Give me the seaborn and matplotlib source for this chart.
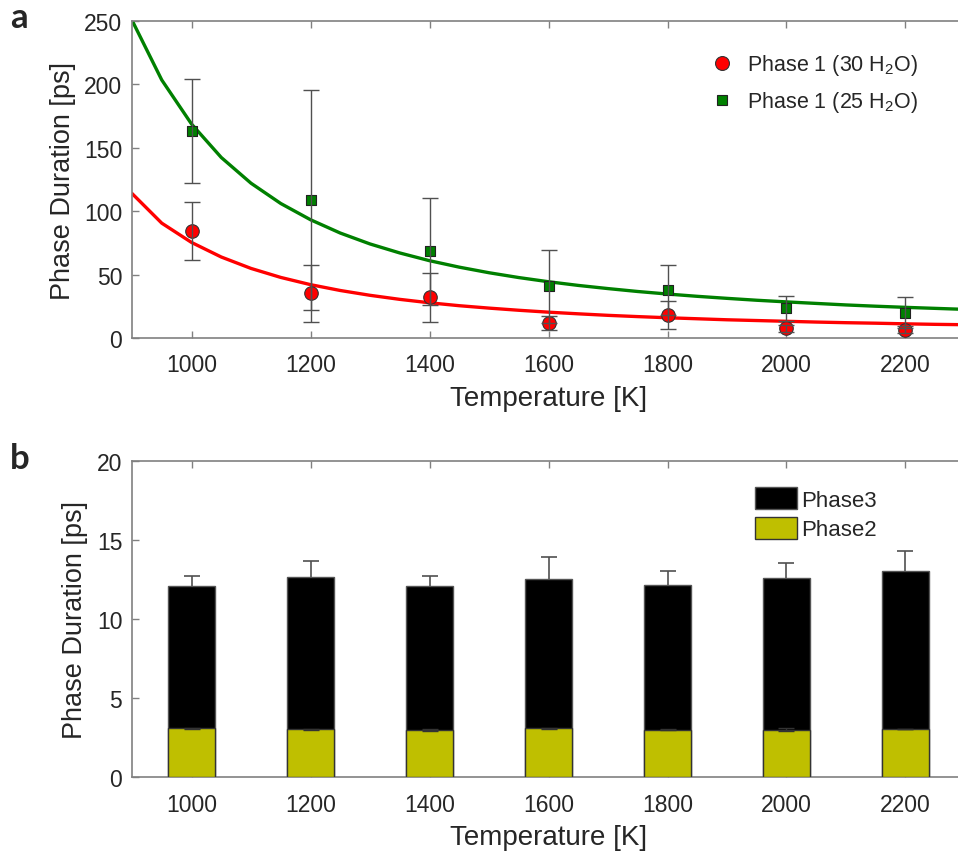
# Phase durations vs temperature (two panels)

import seaborn as sns
import matplotlib.pyplot as plt
import pandas as pd
from matplotlib.patches import Patch
from matplotlib.lines import Line2D

temps = [1000, 1200, 1400, 1600, 1800, 2000, 2200]

# panel a: phase 1 points + error bars
p1_30 = [84.5, 35.2, 32.0, 11.8, 18.1, 7.6, 6.6]
p1_30_err = [23.0, 22.5, 19.0, 5.5, 11.0, 3.0, 3.0]
p1_25 = [163.5, 109.0, 68.4, 40.7, 37.9, 23.4, 20.0]
p1_25_err = [41.0, 87.0, 42.3, 29.0, 19.7, 10.0, 12.3]

# fitted curves, every 50 K
fit_T = [900, 950, 1000, 1050, 1100, 1150, 1200, 1250, 1300, 1350, 1400,
         1450, 1500, 1550, 1600, 1650, 1700, 1750, 1800, 1850, 1900,
         1950, 2000, 2050, 2100, 2150, 2200, 2250, 2300]
fit_30 = [114.0, 90.6, 75.4, 63.9, 54.9, 47.8, 42.1, 37.5, 33.7, 30.5, 27.8,
          25.5, 23.6, 21.9, 20.4, 19.1, 17.9, 16.9, 16.0, 15.2, 14.4,
          13.8, 13.2, 12.6, 12.1, 11.7, 11.2, 10.8, 10.5]
fit_25 = [250.6, 203.5, 168.8, 142.4, 122.1, 106.1, 93.3, 82.8, 74.2, 67.1, 61.0,
          55.9, 51.5, 47.7, 44.4, 41.5, 39.0, 36.7, 34.7, 32.9, 31.3,
          29.8, 28.5, 27.3, 26.1, 25.1, 24.2, 23.4, 22.6]

# panel b: stacked phase 2 / phase 3
phase2 = [3.09, 3.05, 3.00, 3.09, 3.00, 3.00, 3.05]
phase2_err = [0.05, 0.03, 0.05, 0.04, 0.03, 0.10, 0.02]
phase3 = [8.98, 9.60, 9.07, 9.46, 9.13, 9.59, 9.98]
phase3_err = [0.67, 1.01, 0.69, 1.35, 0.92, 0.95, 1.25]

sns.set_style("ticks")
plt.rcParams['font.family'] = ['Liberation Sans', 'DejaVu Sans']
plt.rcParams['mathtext.fontset'] = 'custom'
plt.rcParams['mathtext.rm'] = 'Liberation Sans'
plt.rcParams['mathtext.default'] = 'regular'

txt = '#262626'
edge = '#808080'
ebar = '#505050'
red = '#ff0000'
green = '#008000'
olive = '#bfbf00'

fig = plt.figure(figsize=(9.58, 8.54), dpi=100)
ax1 = fig.add_axes([0.1378, 0.6030, 0.8695, 0.3712])
ax2 = fig.add_axes([0.1378, 0.0886, 0.8695, 0.3704])

# ---- panel a
pts = pd.DataFrame({"T": temps, "p30": p1_30, "p25": p1_25})
fits = pd.DataFrame({"T": fit_T, "f30": fit_30, "f25": fit_25})

sns.lineplot(data=fits, x="T", y="f30", ax=ax1, color=red, lw=2.4, zorder=2)
sns.lineplot(data=fits, x="T", y="f25", ax=ax1, color=green, lw=2.4, zorder=2)
sns.scatterplot(data=pts, x="T", y="p30", ax=ax1, marker='o', s=95,
                color=red, edgecolor='#333333', linewidth=0.8, zorder=3)
sns.scatterplot(data=pts, x="T", y="p25", ax=ax1, marker='s', s=45,
                color=green, edgecolor='#222222', linewidth=0.8, zorder=3)
ax1.errorbar(temps, p1_30, yerr=p1_30_err, fmt='none', ecolor=ebar,
             elinewidth=1, capsize=6, capthick=1, zorder=4)
ax1.errorbar(temps, p1_25, yerr=p1_25_err, fmt='none', ecolor=ebar,
             elinewidth=1, capsize=6, capthick=1, zorder=4)

ax1.set_xlim(900, 2300)
ax1.set_ylim(0, 250)
ax1.set_yticks([0, 50, 100, 150, 200, 250])
ax1.set_xticks(temps)

leg_a = [
    Line2D([], [], ls='none', marker='o', ms=10, mfc=red, mec='#333333', mew=0.8),
    Line2D([], [], ls='none', marker='s', ms=7, mfc=green, mec='#222222', mew=0.8),
]
ax1.legend(leg_a, ['Phase 1 (30 H$_2$O)', 'Phase 1 (25 H$_2$O)'],
           loc='upper left', bbox_to_anchor=(0.672, 0.962), frameon=False,
           fontsize=15.5, handlelength=1.0, handletextpad=0.65,
           labelspacing=0.55, labelcolor=txt)

# ---- panel b
bars = pd.DataFrame({"T": temps,
                     "total": [a + b for a, b in zip(phase2, phase3)],
                     "p2": phase2})
sns.barplot(data=bars, x="T", y="total", ax=ax2, native_scale=True,
            width=0.4, color='black', saturation=1, edgecolor='#555555',
            linewidth=1, zorder=2)
eb = ax2.errorbar(temps, bars["total"], yerr=[[0] * 7, phase3_err], fmt='none',
                  ecolor=ebar, elinewidth=1.2, capsize=6, capthick=1.2, zorder=3)
eb[1][0].set_visible(False)  # hide the cap sitting on the bar top
sns.barplot(data=bars, x="T", y="p2", ax=ax2, native_scale=True,
            width=0.4, color=olive, saturation=1, edgecolor='#333333',
            linewidth=1, zorder=4)
ax2.errorbar(temps, phase2, yerr=phase2_err, fmt='none', ecolor='#333333',
             elinewidth=1, capsize=6, capthick=1, zorder=5)

ax2.set_xlim(900, 2300)
ax2.set_ylim(0, 20)
ax2.set_yticks([0, 5, 10, 15, 20])
ax2.set_xticks(temps)

leg_b = [Patch(facecolor='black', edgecolor='#555555'),
         Patch(facecolor=olive, edgecolor='#333333')]
ax2.legend(leg_b, ['Phase3', 'Phase2'], loc='upper left',
           bbox_to_anchor=(0.729, 0.966), frameon=False, fontsize=16,
           handlelength=1.9, handleheight=1.1, handletextpad=0.2,
           labelspacing=0.3, borderaxespad=0.3, labelcolor=txt)

for ax in (ax1, ax2):
    ax.set_xlabel('Temperature [K]', fontsize=20, color=txt, labelpad=6)
    ax.set_ylabel('Phase Duration [ps]', fontsize=19.5, color=txt, labelpad=6)
    ax.tick_params(direction='in', length=5, width=1, color=edge,
                   labelsize=16.5, labelcolor=txt, top=True, right=True)
    ax.tick_params(axis='x', pad=11)
    ax.tick_params(axis='y', pad=7)
    for s in ax.spines.values():
        s.set_visible(True)
        s.set_color(edge)
        s.set_linewidth(1.2)

fig.text(0.0104, 0.9672, 'a', fontsize=25, fontweight='bold',
         family='Lato', va='baseline')
fig.text(0.0104, 0.4508, 'b', fontsize=25, fontweight='bold',
         family='Lato', va='baseline')

fig.savefig('out.png', dpi=100)
